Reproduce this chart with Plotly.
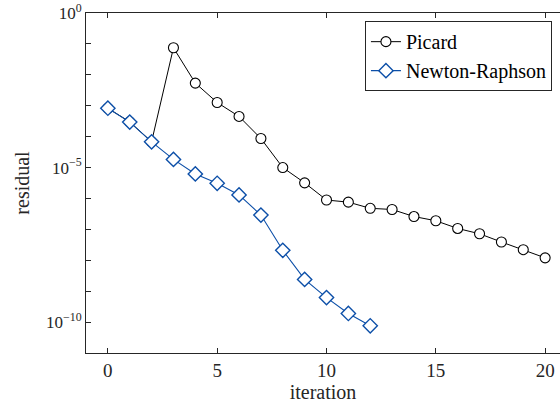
import plotly.graph_objects as go

# Residual history per iteration for the two nonlinear solvers
picard_iter = list(range(0, 21))
picard_res = [8.3e-4, 3.0e-4, 6.8e-5, 7.5e-2, 5.4e-3, 1.27e-3, 4.5e-4, 8.7e-5,
              1.0e-5, 3.2e-6, 8.9e-7, 7.6e-7, 4.8e-7, 4.4e-7, 2.6e-7, 1.9e-7,
              1.07e-7, 7.2e-8, 3.9e-8, 2.2e-8, 1.2e-8]

newton_iter = list(range(0, 13))
newton_res = [8.3e-4, 2.95e-4, 6.8e-5, 1.83e-5, 6.2e-6, 3.1e-6, 1.3e-6, 2.9e-7,
              2.1e-8, 2.4e-9, 6.2e-10, 1.9e-10, 7.6e-11]

# y ticks: labelled every fifth decade, unlabelled marks at every decade
y_major = [1.0, 1e-5, 1e-10]
y_major_labels = ["10<sup>0</sup>", "10<sup>\u22125</sup>", "10<sup>\u221210</sup>"]
y_minor = [10.0 ** (-k) for k in range(0, 12)]

x_ticks = [0, 5, 10, 15, 20]

FONT = "Liberation Serif, Times New Roman, serif"
AX = "#262626"
BLUE = "#0c4fa8"

fig = go.Figure()
fig.add_trace(go.Scatter(
    x=picard_iter, y=picard_res, name="Picard", mode="lines+markers",
    line=dict(color="black", width=1),
    marker=dict(symbol="circle", size=10, color="white",
                line=dict(color="black", width=1.1)),
))
fig.add_trace(go.Scatter(
    x=newton_iter, y=newton_res, name="Newton-Raphson", mode="lines+markers",
    line=dict(color=BLUE, width=1.1),
    marker=dict(symbol="diamond", size=11, color="white",
                line=dict(color=BLUE, width=1.4)),
))

fig.update_layout(
    width=560, height=407,
    margin=dict(l=86, r=0, t=13, b=54, autoexpand=False),
    paper_bgcolor="white", plot_bgcolor="white",
    font=dict(family=FONT, size=18, color=AX),
    legend=dict(x=0.983, y=0.976, xanchor="right", yanchor="top",
                bordercolor=AX, borderwidth=1, bgcolor="white",
                font=dict(family=FONT, size=20, color="black"),
                tracegroupgap=0, itemwidth=30),
    showlegend=True,
)
fig.update_xaxes(
    range=[-1, 20.68], tickvals=x_ticks, ticks="inside", ticklen=5,
    tickcolor=AX, showline=True, linecolor=AX, linewidth=1, mirror="ticks",
    showgrid=False, zeroline=False, automargin=False,
    title=dict(text="iteration", standoff=2, font=dict(family=FONT, size=20)),
    tickfont=dict(family=FONT, size=19),
)
fig.update_yaxes(
    type="log", range=[-11, 0], tickvals=y_major, ticktext=y_major_labels,
    ticks="inside", ticklen=5, tickcolor=AX, ticklabeloverflow="allow",
    minor=dict(tickvals=y_minor, ticks="inside", ticklen=5, tickcolor=AX,
               showgrid=False),
    showline=True, linecolor=AX, linewidth=1, mirror=False,
    showgrid=False, zeroline=False, automargin=False,
    title=dict(text="residual", standoff=10, font=dict(family=FONT, size=20)),
    tickfont=dict(family=FONT, size=17),
)

fig.write_html("out.html")
